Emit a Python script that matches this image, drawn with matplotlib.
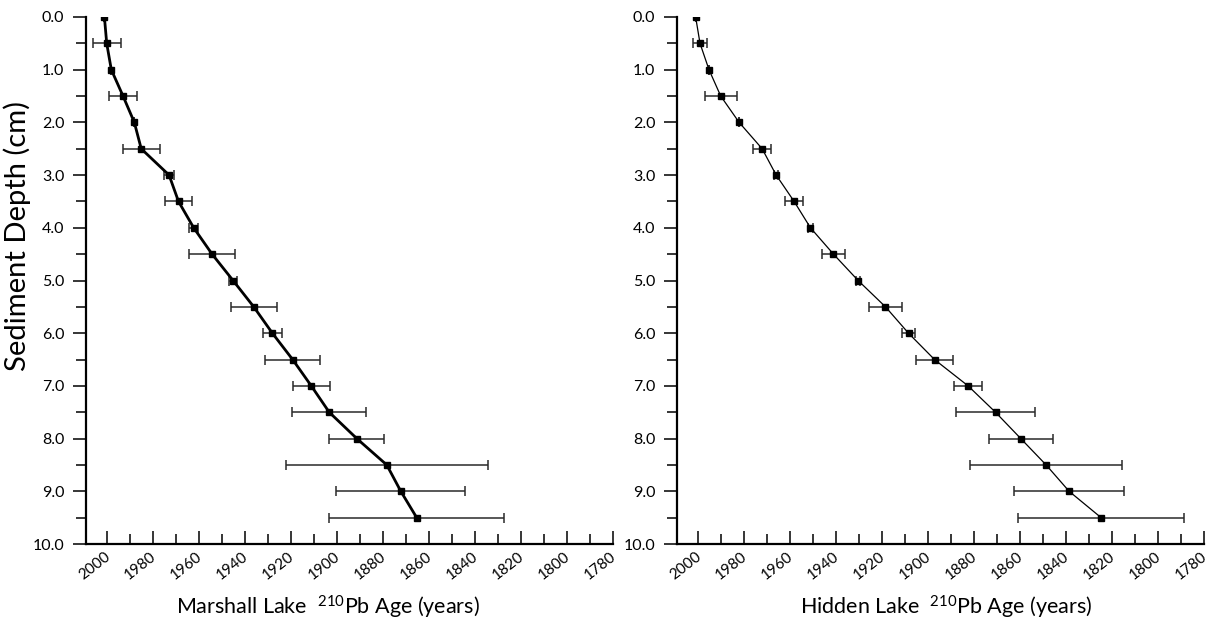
import matplotlib
matplotlib.use("Agg")
import matplotlib.pyplot as plt
import matplotlib.transforms as mtransforms
from matplotlib.ticker import MultipleLocator, FormatStrFormatter
import numpy as np

# ---------------- data ----------------
depth = [0.0, 0.5, 1.0, 1.5, 2.0, 2.5, 3.0, 3.5, 4.0, 4.5,
         5.0, 5.5, 6.0, 6.5, 7.0, 7.5, 8.0, 8.5, 9.0, 9.5]

marshall_age = [2001.0, 2000.0, 1998.0, 1992.9, 1988.0, 1985.0, 1972.9, 1968.8, 1962.2, 1954.2,
                1945.1, 1936.1, 1928.0, 1919.2, 1911.1, 1903.3, 1891.3, 1878.3, 1872.2, 1865.3]
marshall_err = [0, 6, 0, 6, 0, 8, 2, 6, 2, 10,
                1.7, 10, 4, 12, 8, 16, 12, 44, 28, 38]

hidden_age = [2000.9, 1999.0, 1995.1, 1990.0, 1982.0, 1972.0, 1965.9, 1958.1, 1951.0, 1941.0,
              1930.3, 1918.4, 1908.4, 1897.1, 1882.5, 1870.6, 1859.6, 1848.6, 1838.6, 1824.7]
hidden_err = [0, 3, 0, 7, 0, 4, 1, 4, 1, 5,
              1, 7, 3, 8, 6, 17, 14, 33, 24, 36]

year_ticks = list(range(2000, 1779, -20))
depth_ticks = [0, 1, 2, 3, 4, 5, 6, 7, 8, 9, 10]
xlabels = ["Marshall Lake  $^{210}$Pb Age (years)", "Hidden Lake  $^{210}$Pb Age (years)"]
ylabel = "Sediment Depth (cm)"

# ---------------- style ----------------
label_font = "Lato"
plt.rcParams["font.family"] = [label_font, "DejaVu Sans"]
plt.rcParams["mathtext.fontset"] = "custom"
plt.rcParams["mathtext.rm"] = label_font
plt.rcParams["mathtext.it"] = label_font

W, H = 1214, 627
fig = plt.figure(figsize=(W / 100, H / 100), dpi=100)

panels = [
    (86, 613, marshall_age, marshall_err, 2.0),
    (677, 1204, hidden_age, hidden_err, 0.9),
]
xlabel_cx = [328, 946]
top_px, bot_px = 17, 544

for i, (l, r, ages, errs, lw) in enumerate(panels):
    ax = fig.add_axes([l / W, 1 - bot_px / H, (r - l) / W, (bot_px - top_px) / H])
    ax.errorbar(ages, depth, xerr=errs, fmt="none", ecolor="#2a2a2a",
                elinewidth=1.1, capsize=3.4, capthick=1.1, zorder=2)
    ax.plot(ages, depth, "-", color="black", lw=lw, zorder=3)
    ax.plot(ages, depth, "s", color="black", ms=4.5, zorder=4)

    ax.set_xlim(2009, 1780)
    ax.set_ylim(10, 0)
    for s in ["top", "right"]:
        ax.spines[s].set_visible(False)
    for s in ["left", "bottom"]:
        ax.spines[s].set_linewidth(1.6)

    ax.set_yticks(depth_ticks)
    ax.yaxis.set_minor_locator(MultipleLocator(0.5))
    ax.yaxis.set_major_formatter(FormatStrFormatter("%.1f"))
    ax.tick_params(axis="y", which="major", direction="out", length=9.5, width=1.1, pad=6,
                   labelsize=11.5)
    ax.tick_params(axis="y", which="minor", direction="out", length=7.5, width=1.1)

    ax.set_xticks(year_ticks)
    ax.xaxis.set_minor_locator(MultipleLocator(10))
    ax.tick_params(axis="x", which="major", direction="in", length=9.5, width=1.1, pad=4,
                   labelsize=11)
    ax.tick_params(axis="x", which="minor", direction="in", length=7, width=1.1)

    offset = mtransforms.ScaledTranslation(6 / 100, 0, fig.dpi_scale_trans)
    for t in ax.get_xticklabels():
        t.set_rotation(38)
        t.set_ha("right")
        t.set_va("top")
        t.set_transform(t.get_transform() + offset)

    fig.text(xlabel_cx[i] / W, 1 - 607 / H, xlabels[i], fontsize=15.5,
             ha="center", va="center")

fig.text(17 / W, 1 - 236 / H, ylabel, fontsize=21, rotation=90, ha="center", va="center")

fig.savefig("out.png", dpi=100)
